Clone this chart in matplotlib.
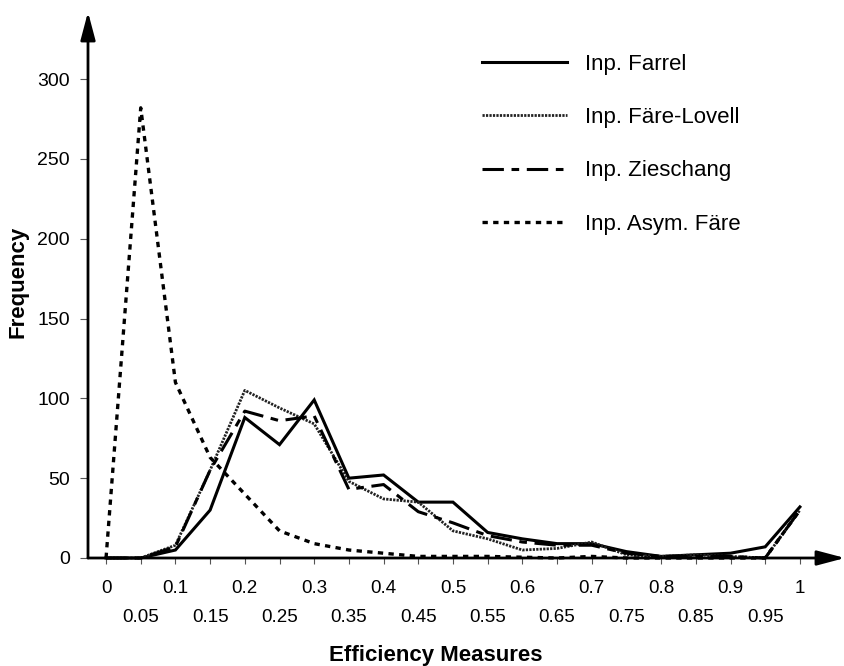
import matplotlib
matplotlib.use("Agg")
import matplotlib.pyplot as plt

plt.rcParams['font.family'] = ['Liberation Sans', 'DejaVu Sans']

x_vals = [0, 0.05, 0.1, 0.15, 0.2, 0.25, 0.3, 0.35, 0.4, 0.45, 0.5,
          0.55, 0.6, 0.65, 0.7, 0.75, 0.8, 0.85, 0.9, 0.95, 1.0]
farrel = [0, 0, 5, 30, 88, 71, 99, 50, 52, 35, 35, 16, 12, 9, 9, 4, 1, 2, 3, 7, 32]
fare_lovell = [0, 0, 8, 55, 105, 94, 84, 48, 37, 35, 17, 12, 5, 6, 10, 2, 1, 2, 1, 0, 30]
zieschang = [0, 0, 7, 55, 92, 86, 89, 43, 46, 29, 22, 14, 10, 8, 8, 3, 1, 1, 1, 0, 30]
asym_fare = [0, 282, 110, 63, 40, 17, 9, 5, 3, 1, 1, 1, 0.5, 0, 1, 0, 0, 0, 0, 0, 30]

labels = ["Inp. Farrel", "Inp. Färe-Lovell", "Inp. Zieschang", "Inp. Asym. Färe"]
major_ticks = [0, 0.1, 0.2, 0.3, 0.4, 0.5, 0.6, 0.7, 0.8, 0.9, 1]
major_labels = ["0", "0.1", "0.2", "0.3", "0.4", "0.5", "0.6", "0.7", "0.8", "0.9", "1"]
minor_ticks = [0.05, 0.15, 0.25, 0.35, 0.45, 0.55, 0.65, 0.75, 0.85, 0.95]
minor_labels = ["0.05", "0.15", "0.25", "0.35", "0.45", "0.55", "0.65", "0.75", "0.85", "0.95"]
y_ticks = [0, 50, 100, 150, 200, 250, 300]

W, H = 845, 666
fig = plt.figure(figsize=(W / 100, H / 100), dpi=100)
ax = fig.add_axes([88 / W, 108 / H, 757 / W, 546 / H])
ax.set_xlim(-0.026, 1.065)
ax.set_ylim(0, 342)

styles = [
    dict(color='black', lw=2.2, ls='-'),
    dict(color='#222222', lw=2.0, ls=(0, (0.8, 0.45))),
    dict(color='black', lw=2.2, ls=(0, (7, 2.5, 2.5, 2.5))),
    dict(color='black', lw=2.4, ls=(0, (1.6, 1.6))),
]
series = [farrel, fare_lovell, zieschang, asym_fare]
handles = []
for s, st in zip(series, styles):
    h, = ax.plot(x_vals, s, clip_on=False, solid_joinstyle='miter', **st)
    handles.append(h)

for sp in ax.spines.values():
    sp.set_visible(False)

arrow_kw = dict(arrowstyle='-|>,head_length=1.7,head_width=0.45', lw=2,
                color='black', mutation_scale=10, shrinkA=0, shrinkB=0)
ax.annotate('', xy=(1, 0), xytext=(0, 0), xycoords='axes fraction',
            textcoords='axes fraction', arrowprops=arrow_kw, annotation_clip=False)
ax.annotate('', xy=(0, 1), xytext=(0, 0), xycoords='axes fraction',
            textcoords='axes fraction', arrowprops=arrow_kw, annotation_clip=False)

ax.set_xticks(major_ticks)
ax.set_xticklabels(major_labels)
ax.set_xticks(minor_ticks, minor=True)
ax.set_xticklabels(minor_labels, minor=True)
ax.tick_params(axis='x', which='major', direction='out', length=4, width=0.8,
               color='#555555', pad=12, labelsize=13.5)
ax.tick_params(axis='x', which='minor', direction='out', length=4, width=0.8,
               color='#555555', pad=33, labelsize=13.5)
ax.set_yticks(y_ticks)
ax.tick_params(axis='y', direction='out', length=6, width=0.8, color='#555555',
               pad=7, labelsize=14)

ax.set_ylabel("Frequency", fontsize=16, fontweight='bold', va='center')
ax.yaxis.set_label_coords((18 - 88) / 757, (558 - 282) / 546)
ax.set_xlabel("Efficiency Measures", fontsize=16, fontweight='bold', va='center')
ax.xaxis.set_label_coords((436 - 88) / 757, (558 - 655) / 546)

leg = ax.legend(handles, labels, loc='upper left',
                bbox_to_anchor=(482 / W, 1 - 54 / H), bbox_transform=fig.transFigure,
                frameon=False, fontsize=16, handlelength=3.83, handletextpad=0.8,
                labelspacing=1.45, borderpad=0, borderaxespad=0)

fig.savefig("out.png", dpi=100)
